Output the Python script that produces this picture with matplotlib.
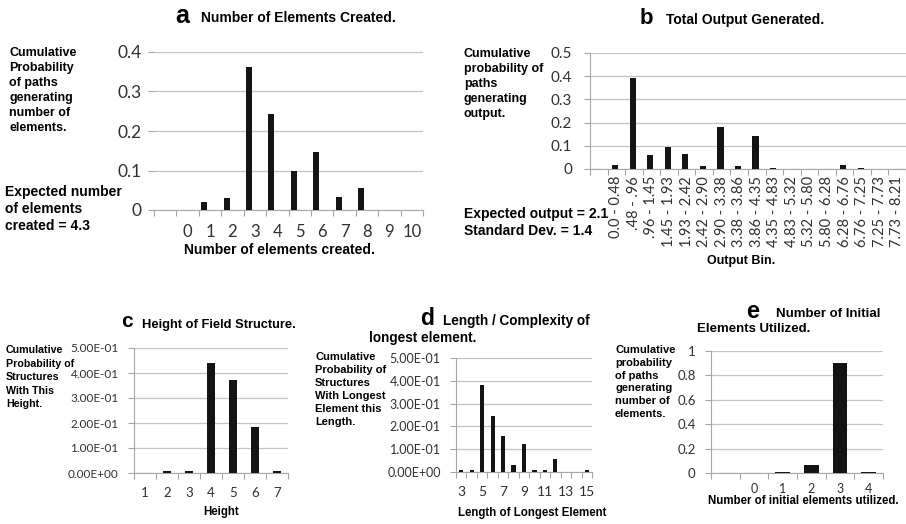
import matplotlib.pyplot as plt
import numpy as np
from matplotlib.ticker import FuncFormatter

W, H = 906, 524

# a: number of elements created
a_labels = ['', '0', '1', '2', '3', '4', '5', '6', '7', '8', '9', '10']
a_values = [0, 0, 0.019, 0.030, 0.363, 0.244, 0.100, 0.146, 0.034, 0.055, 0, 0]

# b: total output generated
b_labels = ['', '0.0 - 0.48', '.48 - .96', '.96 - 1.45', '1.45 - 1.93', '1.93 - 2.42',
            '2.42 - 2.90', '2.90 - 3.38', '3.38 - 3.86', '3.86 - 4.35', '4.35 - 4.83',
            '4.83 - 5.32', '5.32 - 5.80', '5.80 - 6.28', '6.28 - 6.76', '6.76 - 7.25',
            '7.25 - 7.73', '7.73 - 8.21']
b_values = [0, 0.019, 0.392, 0.059, 0.093, 0.066, 0.011, 0.182, 0.011, 0.144,
            0.003, 0, 0, 0, 0.019, 0.003, 0, 0]

# c: height of field structure
c_labels = ['1', '2', '3', '4', '5', '6', '7']
c_values = [0, 0.008, 0.008, 0.440, 0.371, 0.185, 0.008]

# d: length of longest element
d_labels = ['3', '4', '5', '6', '7', '8', '9', '10', '11', '12', '13', '14', '15']
d_values = [0.008, 0.008, 0.383, 0.244, 0.159, 0.032, 0.123, 0.008, 0.008, 0.058, 0, 0, 0.008]

# e: number of initial elements utilized
e_labels = ['', '0', '1', '2', '3', '4']
e_values = [0, 0, 0.005, 0.068, 0.900, 0.005]

BOLD = 'Liberation Sans'
NUM = 'Lato'
GRID = '#c4c4c4'
AXC = '#a6a6a6'
BARC = '#141414'

fig = plt.figure(figsize=(W / 100, H / 100), dpi=100)


def px_axes(x0, y0, x1, y1):
    return fig.add_axes([x0 / W, 1 - y1 / H, (x1 - x0) / W, (y1 - y0) / H])


def txt(x, y, s, size, va='baseline', **kw):
    fig.text(x / W, 1 - y / H, s, fontsize=size, family=BOLD, fontweight='bold',
             va=va, **kw)


def bar_panel(ax, labels, values, ymax, ystep, width, offset, fmt, ysize, xsize,
              xpad, ypad, left_spine=True, every=1, rot=0):
    n = len(labels)
    pos = np.arange(n)
    ax.bar(pos + offset, values, width, color=BARC, zorder=3)
    ax.set_xlim(-0.5, n - 0.5)
    ax.set_ylim(0, ymax)
    ax.set_yticks(np.arange(0, ymax + ystep / 2, ystep))
    ax.yaxis.set_major_formatter(FuncFormatter(fmt))
    ax.set_xticks(pos[::every])
    ax.set_xticklabels(labels[::every], rotation=rot)
    ax.set_xticks(np.arange(-0.5, n), minor=True)
    ax.tick_params(axis='x', which='major', length=0, pad=xpad, labelsize=xsize,
                   labelcolor='#303030')
    ax.tick_params(axis='x', which='minor', length=4, color=AXC, width=0.8)
    ax.tick_params(axis='y', length=4, color=AXC, width=0.8, pad=ypad,
                   labelsize=ysize, labelcolor='#303030')
    for lab in ax.get_xticklabels() + ax.get_yticklabels():
        lab.set_family(NUM)
    ax.grid(axis='y', color=GRID, lw=0.9, zorder=0)
    ax.set_axisbelow(True)
    for s in ['top', 'right']:
        ax.spines[s].set_visible(False)
    ax.spines['bottom'].set_color(AXC)
    ax.spines['left'].set_color(AXC)
    ax.spines['left'].set_visible(left_spine)


plain = lambda v, p: '%g' % round(v, 2)
sci = lambda v, p: '%.2E' % v

# panel a
ax = px_axes(154, 52, 423, 210)
bar_panel(ax, a_labels, a_values, 0.4, 0.1, 0.27, -0.26, plain, 12.5, 12,
          10, 5, left_spine=False)
txt(175, 23, 'a', 18)
txt(201, 22, 'Number of Elements Created.', 10)
txt(9, 47, 'Cumulative\nProbability\nof paths\ngenerating\nnumber of\nelements.', 9,
    va='top', linespacing=1.33)
txt(5, 185, 'Expected number\nof elements\ncreated = 4.3', 10, va='top', linespacing=1.25)
txt(279, 254, 'Number of elements created.', 10, ha='center')

# panel b
ax = px_axes(590, 53, 906, 169)
bar_panel(ax, b_labels, b_values, 0.5, 0.1, 0.35, -0.07, plain, 11, 10.5,
          5, 9, rot=90)
txt(640, 24, 'b', 16)
txt(666, 24, 'Total Output Generated.', 10)
txt(464, 48, 'Cumulative\nprobability of\npaths\ngenerating\noutput.', 9,
    va='top', linespacing=1.33)
txt(464, 207, 'Expected output = 2.1\nStandard Dev. = 1.4', 10, va='top', linespacing=1.25)
txt(741, 264, 'Output Bin.', 9, ha='center')

# panel c
ax = px_axes(134, 348, 288, 473)
bar_panel(ax, c_labels, c_values, 0.5, 0.1, 0.4, 0, sci, 8.5, 9.5, 10, 7)
txt(121, 327, 'c', 15)
txt(142, 328, 'Height of Field Structure.', 9.3)
txt(6, 345, 'Cumulative\nProbability of\nStructures\nWith This\nHeight.', 7.7,
    va='top', linespacing=1.45)
txt(221, 515, 'Height', 8.3, ha='center')

# panel d
ax = px_axes(456, 358, 592, 472)
bar_panel(ax, d_labels, d_values, 0.5, 0.1, 0.4, 0, sci, 9, 10, 10, 7, every=2)
txt(420, 325, 'd', 16.5)
txt(443, 325, 'Length / Complexity of', 9.8)
txt(369, 342, 'longest element.', 9.8)
txt(315, 352, 'Cumulative\nProbability of\nStructures\nWith Longest\nElement this\nLength.', 8,
    va='top', linespacing=1.38)
txt(532, 516, 'Length of Longest Element', 8.3, ha='center')

# panel e
ax = px_axes(711, 351, 883, 473)
bar_panel(ax, e_labels, e_values, 1.0, 0.2, 0.52, 0, plain, 9.5, 9, 7, 7)
txt(746, 318, 'e', 17)
txt(776, 317, 'Number of Initial', 9.5)
txt(697, 332, 'Elements Utilized.', 9.5)
txt(615, 345, 'Cumulative\nprobability\nof paths\ngenerating\nnumber of\nelements.', 8,
    va='top', linespacing=1.35)
txt(803, 504, 'Number of initial elements utilized.', 8.3, ha='center')

fig.savefig('out.png', dpi=100)
